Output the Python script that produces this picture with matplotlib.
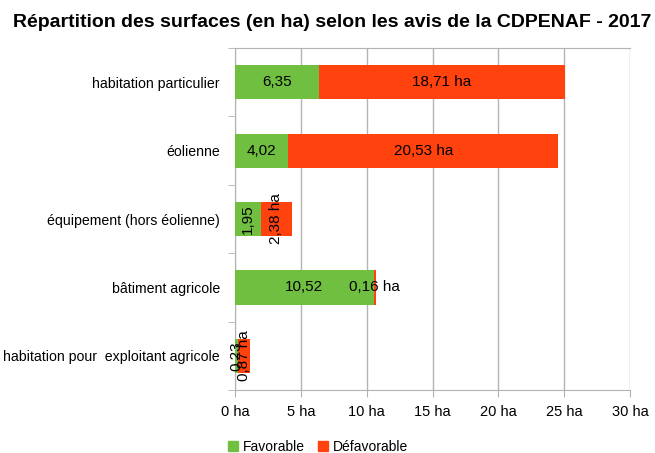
import matplotlib.pyplot as plt
import numpy as np

plt.rcParams['font.family'] = ['Liberation Sans', 'DejaVu Sans']

# donnees
categories = ["habitation particulier", "éolienne", "équipement (hors éolienne)",
              "bâtiment agricole", "habitation pour  exploitant agricole"]
favorable = [6.35, 4.02, 1.95, 10.52, 0.23]
defavorable = [18.71, 20.53, 2.38, 0.16, 0.87]
xticks = [0, 5, 10, 15, 20, 25, 30]

green = '#70bf41'
red = '#ff420e'
grid_col = '#b3b3b3'

fig = plt.figure(figsize=(6.55, 4.53), dpi=100)
ax = fig.add_axes([0.359, 0.139, 0.603, 0.755])

y = np.arange(len(categories))
ax.barh(y, favorable, height=0.5, color=green, zorder=3)
ax.barh(y, defavorable, left=favorable, height=0.5, color=red, zorder=3)

def fmt(v):
    return ("%.2f" % v).replace('.', ',')

# etiquettes des valeurs
for i in range(len(categories)):
    f = favorable[i]
    d = defavorable[i]
    rot = 90 if f + d < 5 else 0
    ax.text(f / 2, y[i], fmt(f), ha='center', va='center', rotation=rot,
            fontsize=11, zorder=4)
    ax.text(f + d / 2, y[i], fmt(d) + " ha", ha='center', va='center',
            rotation=rot, fontsize=11, zorder=4)

ax.set_xlim(0, 30)
ax.set_ylim(len(categories) - 0.5, -0.5)
ax.set_xticks(xticks)
ax.set_xticklabels(["%d ha" % t for t in xticks], fontsize=10.5)
ax.set_yticks(y)
ax.set_yticklabels(categories, fontsize=10.2)
ax.set_yticks(np.arange(len(categories) + 1) - 0.5, minor=True)
ax.tick_params(axis='y', which='major', length=0, pad=11)
ax.tick_params(axis='y', which='minor', length=5, color=grid_col)
ax.tick_params(axis='x', length=5, color=grid_col, pad=6)

ax.grid(axis='x', color=grid_col, linewidth=1, zorder=0)
for s in ['left', 'bottom', 'top']:
    ax.spines[s].set_color(grid_col)
ax.spines['right'].set_visible(False)

fig.suptitle("Répartition des surfaces (en ha) selon les avis de la CDPENAF - 2017",
             fontsize=14, fontweight='bold', x=0.507, y=0.97)

h1 = plt.Line2D([], [], marker='s', color=green, linestyle='', markersize=7)
h2 = plt.Line2D([], [], marker='s', color=red, linestyle='', markersize=7)
fig.legend([h1, h2], ["Favorable", "Défavorable"], loc='center',
           bbox_to_anchor=(0.485, 0.013), ncol=2, frameon=False, fontsize=10,
           handlelength=0.8, handletextpad=0.3, columnspacing=0.9)

fig.savefig("out.png", dpi=100)
